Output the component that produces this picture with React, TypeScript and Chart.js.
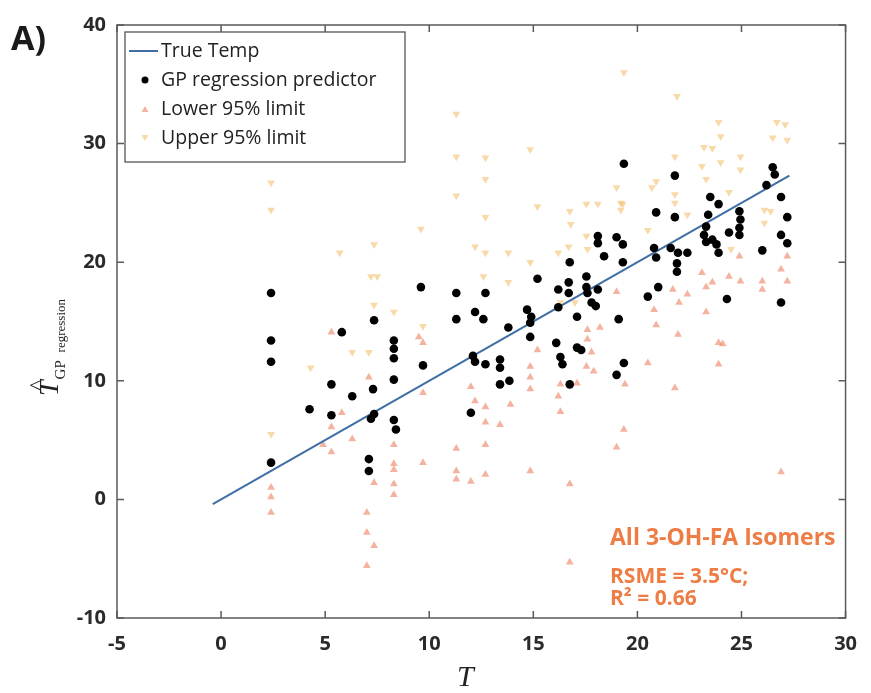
import React, { useEffect, useRef } from "react";
import { Chart, registerables } from "chart.js";

Chart.register(...registerables);

const X_MIN = -5, X_MAX = 30, X_STEP = 5;
const Y_MIN = -10, Y_MAX = 40, Y_STEP = 10;

const legendLabels = ["True Temp", "GP regression predictor", "Lower 95% limit", "Upper 95% limit"];
const annotationLines = ["All 3-OH-FA Isomers", "RSME = 3.5°C;", "R² = 0.66"];

const trueTempX = [-0.4, 27.3];

const gpPoints: [number, number][] = [
  [2.4, 17.4], [2.4, 13.4], [2.4, 11.6], [2.4, 3.1],
  [4.25, 7.6], [5.3, 9.7], [5.3, 7.1], [5.8, 14.1], [6.3, 8.7],
  [7.1, 3.4], [7.1, 2.4], [7.35, 15.1], [7.35, 7.2], [7.3, 9.3], [7.2, 6.8],
  [8.3, 13.4], [8.3, 12.7], [8.3, 11.9], [8.3, 10.1], [8.3, 6.7], [8.4, 5.9],
  [9.6, 17.9], [9.7, 11.3],
  [11.3, 17.4], [11.3, 15.2], [12.7, 17.4], [12.2, 15.8], [12.6, 15.2],
  [12.1, 12.1], [12.2, 11.6], [12.7, 11.4], [12.0, 7.3],
  [13.4, 11.8], [13.4, 11.1], [13.8, 14.5], [13.85, 10.0], [13.4, 9.7],
  [14.7, 16.0], [14.9, 15.4], [14.85, 14.9], [14.85, 13.7], [15.2, 18.6],
  [16.2, 17.7], [16.2, 16.2], [16.1, 13.2], [16.3, 12.0], [16.4, 11.4],
  [16.7, 18.3], [16.7, 17.4], [16.75, 20.0], [16.75, 9.7],
  [17.3, 12.6], [17.1, 15.4], [17.55, 18.8], [17.55, 17.9], [17.6, 17.4],
  [17.8, 16.6], [18.0, 16.3], [18.1, 17.7], [18.1, 22.2], [18.1, 21.6], [18.4, 20.5],
  [17.1, 12.8],
  [19.0, 22.1], [19.3, 21.5], [19.3, 20.0], [19.35, 28.3], [19.1, 15.2],
  [19.35, 11.5], [19.0, 10.5],
  [20.9, 24.2], [20.8, 21.2], [20.9, 20.4], [21.0, 17.9], [20.5, 17.1],
  [21.8, 27.3], [21.8, 23.8], [21.6, 21.2], [21.95, 20.8], [22.4, 20.8],
  [21.9, 19.9], [21.9, 19.2],
  [23.5, 25.5], [23.9, 24.9], [23.4, 24.0], [23.3, 23.0], [23.2, 22.3],
  [23.3, 21.7], [23.6, 21.9], [23.8, 21.5], [23.9, 20.8], [24.4, 22.5],
  [24.9, 24.3], [24.95, 23.6], [24.9, 22.9], [24.9, 22.3], [24.3, 16.9],
  [26.0, 21.0], [26.2, 26.5], [26.5, 28.0], [26.6, 27.4], [26.9, 25.5],
  [27.2, 23.8], [26.9, 22.3], [27.2, 21.6], [26.9, 16.6],
];

const lowerPoints: [number, number][] = [
  [2.4, 1.0], [2.4, 0.2], [2.4, -1.1],
  [5.3, 14.1], [5.3, 4.0], [5.3, 6.1], [5.8, 7.3], [6.3, 5.1], [4.9, 4.6],
  [7.0, -1.1], [7.0, -2.8], [7.35, -3.9], [7.0, -5.6], [7.35, 1.4], [7.1, 10.3],
  [8.3, 2.5], [8.3, 1.3], [8.3, 0.4], [8.3, 4.6], [8.3, 3.0],
  [9.7, 3.1], [9.5, 13.7], [9.7, 13.2], [9.7, 9.0],
  [11.3, 4.3], [11.3, 2.4], [11.3, 1.7], [12.0, 1.5], [12.7, 2.1], [12.7, 4.6],
  [12.7, 6.5], [13.4, 6.3], [13.9, 8.0], [12.0, 9.5], [12.2, 8.3], [12.7, 7.8],
  [14.85, 11.2], [14.85, 10.3], [14.85, 9.3], [14.85, 2.4], [15.2, 12.6],
  [16.75, 1.3], [16.75, -5.3], [16.3, 7.4], [16.2, 8.7], [16.3, 9.7],
  [17.6, 14.3], [17.6, 13.5], [17.8, 12.4], [17.55, 11.2], [17.9, 10.8],
  [17.1, 9.8], [18.2, 14.5],
  [19.35, 5.9], [19.0, 4.4], [19.4, 9.7], [19.0, 17.5],
  [20.5, 11.5], [21.8, 9.4], [21.95, 13.9], [20.9, 14.7], [20.8, 16.0],
  [21.7, 17.7], [22.0, 16.6], [22.4, 17.3],
  [23.3, 15.8], [23.1, 19.1], [23.3, 17.9], [23.6, 18.3], [23.9, 13.2],
  [24.1, 13.1], [23.9, 11.4], [24.4, 18.8], [24.95, 18.4], [24.9, 20.5],
  [26.0, 18.4], [26.0, 17.7], [26.9, 19.4], [27.2, 18.4], [26.9, 2.3], [27.2, 20.5],
];

const upperPoints: [number, number][] = [
  [2.4, 26.7], [2.4, 24.4], [2.4, 5.5],
  [4.3, 11.1], [5.7, 20.8], [6.3, 12.4], [7.1, 12.4], [7.35, 21.5],
  [7.2, 18.8], [7.5, 18.8], [7.35, 16.4],
  [8.3, 15.8], [9.6, 22.8], [9.7, 14.6],
  [11.3, 32.5], [11.3, 28.9], [11.3, 25.6], [12.7, 28.8], [12.7, 27.0],
  [14.85, 29.5], [15.2, 24.7], [12.7, 23.8], [12.7, 20.8], [12.2, 21.3],
  [13.8, 20.8], [12.6, 18.8], [13.8, 18.3], [14.85, 20.0],
  [16.75, 24.3], [16.8, 23.2], [17.55, 24.9], [18.1, 24.9], [19.3, 24.9],
  [17.55, 22.2], [16.7, 21.3], [16.2, 20.8], [16.3, 16.6], [17.0, 16.6],
  [17.6, 21.1], [19.0, 26.3],
  [19.35, 36.0], [21.9, 34.0], [23.9, 31.8], [24.0, 30.6], [23.2, 29.7],
  [23.6, 29.6], [26.7, 31.8], [27.1, 31.6], [26.5, 30.5], [27.2, 30.3],
  [21.8, 28.9], [24.95, 28.9], [24.95, 27.8], [24.0, 28.4], [23.1, 28.1],
  [23.3, 27.0], [20.9, 26.8], [20.7, 26.3], [21.8, 25.7], [21.8, 25.0],
  [24.4, 25.9], [26.1, 24.4], [26.4, 24.3], [26.1, 23.3], [19.2, 25.0],
  [19.2, 24.4], [20.5, 22.7], [22.4, 24.0], [24.5, 21.1],
];

const LINE_COLOR = "#3f6ea5";
const LOWER_COLOR = "rgba(236,128,96,0.6)";
const UPPER_COLOR = "rgba(244,192,110,0.6)";
const TEXT_ORANGE = "#ee7d45";
const FRAME = "#5a5a5a";

const toXY = (pts: [number, number][]) => pts.map(([x, y]) => ({ x, y }));

function drawTri(ctx: CanvasRenderingContext2D, cx: number, cy: number, s: number, up: boolean, color: string) {
  ctx.beginPath();
  if (up) {
    ctx.moveTo(cx, cy - s);
    ctx.lineTo(cx + s * 0.87, cy + s * 0.5);
    ctx.lineTo(cx - s * 0.87, cy + s * 0.5);
  } else {
    ctx.moveTo(cx, cy + s);
    ctx.lineTo(cx + s * 0.87, cy - s * 0.5);
    ctx.lineTo(cx - s * 0.87, cy - s * 0.5);
  }
  ctx.closePath();
  ctx.fillStyle = color;
  ctx.fill();
}

const decorPlugin = {
  id: "decor",
  afterDraw(chart: any) {
    const ctx: CanvasRenderingContext2D = chart.ctx;
    const { left, right, top, bottom } = chart.chartArea;
    const xs = chart.scales.x;
    const ys = chart.scales.y;
    ctx.save();
    // frame
    ctx.strokeStyle = FRAME;
    ctx.lineWidth = 1.5;
    ctx.strokeRect(left, top, right - left, bottom - top);
    // inward ticks
    const tl = 7;
    ctx.beginPath();
    xs.ticks.forEach((t: any) => {
      const px = xs.getPixelForValue(t.value);
      ctx.moveTo(px, bottom); ctx.lineTo(px, bottom - tl);
      ctx.moveTo(px, top); ctx.lineTo(px, top + tl);
    });
    ys.ticks.forEach((t: any) => {
      const py = ys.getPixelForValue(t.value);
      ctx.moveTo(left, py); ctx.lineTo(left + tl, py);
      ctx.moveTo(right, py); ctx.lineTo(right - tl, py);
    });
    ctx.stroke();

    // legend box
    const lx = 125, ly = 32, lw = 280, lh = 130;
    ctx.fillStyle = "#ffffff";
    ctx.fillRect(lx, ly, lw, lh);
    ctx.strokeStyle = "#555";
    ctx.lineWidth = 1.3;
    ctx.strokeRect(lx, ly, lw, lh);
    const rows = [51, 80, 109, 138];
    ctx.font = '19.5px "Open Sans"';
    ctx.textBaseline = "middle";
    ctx.textAlign = "left";
    legendLabels.forEach((lab, i) => {
      ctx.fillStyle = "#222";
      ctx.fillText(lab, 161, rows[i]);
    });
    // symbols
    ctx.strokeStyle = LINE_COLOR;
    ctx.lineWidth = 2;
    ctx.beginPath();
    ctx.moveTo(129, rows[0]); ctx.lineTo(158, rows[0]);
    ctx.stroke();
    ctx.beginPath();
    ctx.arc(145, rows[1], 3.5, 0, Math.PI * 2);
    ctx.fillStyle = "#000";
    ctx.fill();
    drawTri(ctx, 145, rows[2] + 1, 4, true, LOWER_COLOR);
    drawTri(ctx, 145, rows[3] - 1, 4, false, UPPER_COLOR);

    // annotation
    ctx.fillStyle = TEXT_ORANGE;
    ctx.font = 'bold 23px "Open Sans"';
    ctx.textBaseline = "middle";
    ctx.fillText(annotationLines[0], 610, 538);
    ctx.font = 'bold 21px "Open Sans"';
    ctx.fillText(annotationLines[1], 610, 577);
    ctx.fillText(annotationLines[2], 610, 599);

    // panel label
    ctx.fillStyle = "#1a1a1a";
    ctx.font = 'bold 34px "Open Sans"';
    ctx.textBaseline = "alphabetic";
    ctx.fillText("A)", 11, 50);

    // x title
    ctx.font = 'italic 30px "Liberation Serif"';
    ctx.textAlign = "center";
    ctx.fillStyle = "#222";
    ctx.fillText("T", (left + right) / 2 - 16, 686);

    // y title
    ctx.save();
    ctx.rotate(-Math.PI / 2);
    ctx.textAlign = "left";
    ctx.font = 'italic 28px "Liberation Serif"';
    ctx.fillText("T", -396, 58);
    const tw = ctx.measureText("T").width;
    ctx.font = '22px "Liberation Serif"';
    ctx.fillText("^", -396 + tw * 0.35, 44);
    ctx.font = '15px "Liberation Serif"';
    ctx.fillText("GP", -396 + tw + 1, 65);
    ctx.font = '13px "Liberation Serif"';
    ctx.fillText("regression", -396 + tw + 28, 65);
    ctx.restore();
    ctx.restore();
  },
};

export default function App() {
  const ref = useRef<HTMLCanvasElement | null>(null);
  useEffect(() => {
    if (!ref.current) return;
    const tickFont = { family: '"Open Sans"', size: 20, weight: "bold" as const };
    const chart = new Chart(ref.current, {
      type: "scatter",
      data: {
        datasets: [
          {
            label: legendLabels[1],
            data: toXY(gpPoints),
            pointStyle: "circle",
            pointRadius: 4.3,
            backgroundColor: "#000",
            borderColor: "#000",
            borderWidth: 0,
            order: 0,
          },
          {
            type: "line",
            label: legendLabels[0],
            data: trueTempX.map((v) => ({ x: v, y: v })),
            borderColor: LINE_COLOR,
            borderWidth: 2,
            pointRadius: 0,
            showLine: true,
            fill: false,
            order: 1,
          } as any,
          {
            label: legendLabels[2],
            data: toXY(lowerPoints),
            pointStyle: "triangle",
            pointRadius: 4.5,
            backgroundColor: LOWER_COLOR,
            borderColor: LOWER_COLOR,
            borderWidth: 0,
            order: 2,
          },
          {
            label: legendLabels[3],
            data: toXY(upperPoints),
            pointStyle: "triangle",
            rotation: 180,
            pointRadius: 4.5,
            backgroundColor: UPPER_COLOR,
            borderColor: UPPER_COLOR,
            borderWidth: 0,
            order: 3,
          } as any,
        ],
      },
      options: {
        animation: false,
        responsive: false,
        devicePixelRatio: 1,
        layout: { padding: { top: 25, right: 16, left: 0, bottom: 0 } },
        plugins: { legend: { display: false }, tooltip: { enabled: false } },
        scales: {
          x: {
            type: "linear",
            min: X_MIN,
            max: X_MAX,
            grid: { display: false, drawTicks: false },
            border: { display: false },
            ticks: { stepSize: X_STEP, font: tickFont, color: "#2a2a2a", padding: 14 },
            afterFit: (s: any) => { s.height = 75; },
          },
          y: {
            type: "linear",
            min: Y_MIN,
            max: Y_MAX,
            grid: { display: false, drawTicks: false },
            border: { display: false },
            ticks: { stepSize: Y_STEP, font: tickFont, color: "#2a2a2a", padding: 11 },
            afterFit: (s: any) => { s.width = 117; },
          },
        },
      },
      plugins: [decorPlugin],
    });
    return () => chart.destroy();
  }, []);
  return (
    <div style={{ position: "fixed", left: 0, top: 0, width: 871, height: 693, background: "#fff" }}>
      <canvas ref={ref} width={871} height={693} style={{ width: 871, height: 693, display: "block" }} />
    </div>
  );
}
